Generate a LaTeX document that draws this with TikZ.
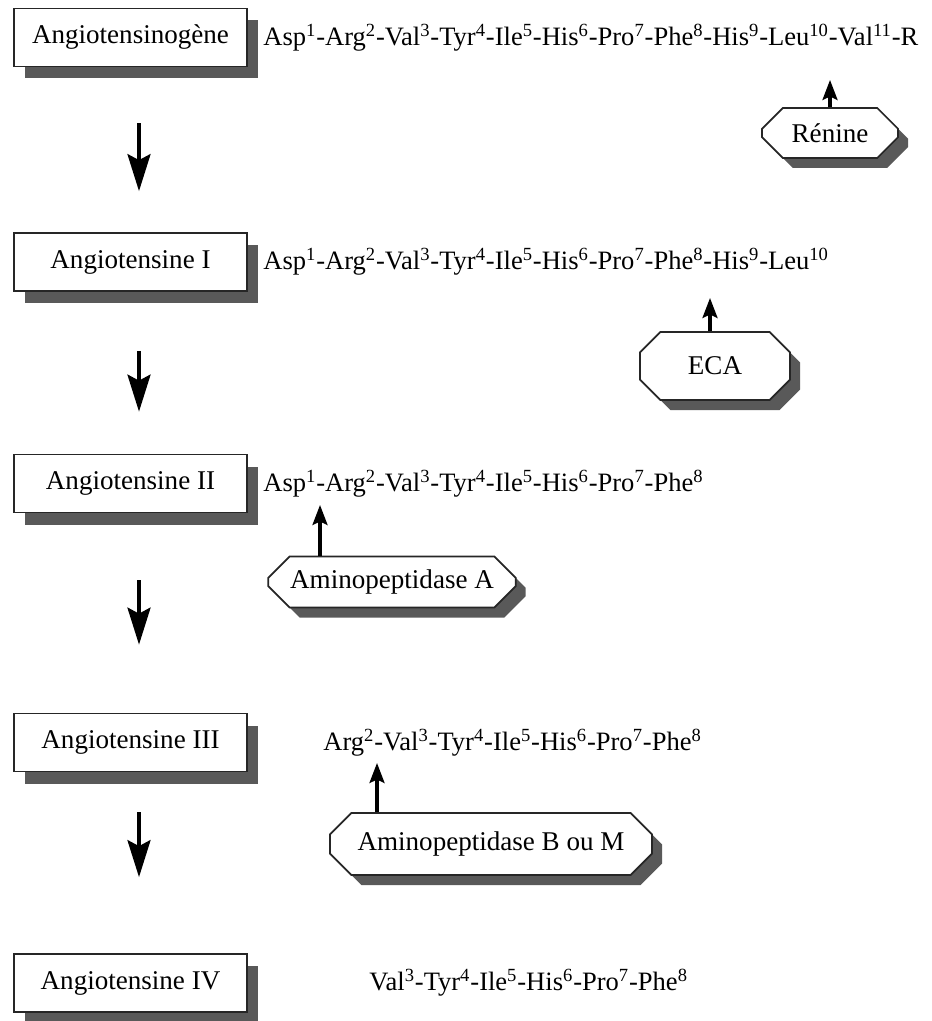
\documentclass[tikz,border=0pt]{standalone}
\usepackage{fontspec}
\setmainfont{Liberation Serif}
\usetikzlibrary{arrows.meta, positioning, shapes.misc, shadows}

\newcommand{\res}[2]{#1\textsuperscript{#2}}

\begin{document}
\begin{tikzpicture}[
> = {Stealth[length=0.4cm, width=0.3cm, inset=0.07cm]}, % arrow head style
font = \fontsize{15.4}{18}\selectfont, % text size
node distance = 4.5cm, % distance between boxes
semithick % line style
]
\tikzstyle{box}=[
draw = black!85,
line width = 1pt,
fill = white,
minimum width = 4.66cm,
minimum height = 1.16cm,
drop shadow = {shadow xshift=0.22cm, shadow yshift=-0.24cm, fill=black!65, opacity=1}
]
\tikzstyle{enzyme}=[
chamfered rectangle,
chamfered rectangle xsep = 0.32cm,
draw = black!85,
line width = 1pt,
fill = white,
drop shadow = {shadow xshift=0.2cm, shadow yshift=-0.2cm, fill=black!65, opacity=1}
]
\tikzstyle{pept}=[inner sep = 0pt, font = \fontsize{15.1}{18}\selectfont]
\tikzstyle{convert}=[-{Stealth[length=0.74cm, width=0.46cm, inset=0.12cm]}, line width = 2pt]
\tikzstyle{cleave}=[-{Stealth[length=0.4cm, width=0.3cm, inset=0.07cm]}, line width = 1.8pt]
\useasboundingbox (0,0) rectangle (18.62,-20.42);
% precursor and peptides
\node[box] (ang0) at (2.61,-0.75) {Angiotensinogène};
\node[box] (ang1) [below of=ang0, node distance=4.49cm] {Angiotensine I};
\node[box] (ang2) [below of=ang1, node distance=4.43cm] {Angiotensine II};
\node[box] (ang3) [below of=ang2, node distance=5.18cm] {Angiotensine III};
\node[box] (ang4) [below of=ang3, node distance=4.81cm] {Angiotensine IV};
% sequences
\node[pept] (pep0) [right=0.3cm of ang0] {\res{Asp}{1}-\res{Arg}{2}-\res{Val}{3}-\res{Tyr}{4}-\res{Ile}{5}-\res{His}{6}-\res{Pro}{7}-\res{Phe}{8}-\res{His}{9}-\res{Leu}{10}-\res{Val}{11}-R};
\node[pept] (pep1) [right=0.3cm of ang1] {\res{Asp}{1}-\res{Arg}{2}-\res{Val}{3}-\res{Tyr}{4}-\res{Ile}{5}-\res{His}{6}-\res{Pro}{7}-\res{Phe}{8}-\res{His}{9}-\res{Leu}{10}};
\node[pept] (pep2) [right=0.3cm of ang2] {\res{Asp}{1}-\res{Arg}{2}-\res{Val}{3}-\res{Tyr}{4}-\res{Ile}{5}-\res{His}{6}-\res{Pro}{7}-\res{Phe}{8}};
\node[pept] (pep3) [right=1.5cm of ang3] {\res{Arg}{2}-\res{Val}{3}-\res{Tyr}{4}-\res{Ile}{5}-\res{His}{6}-\res{Pro}{7}-\res{Phe}{8}};
\node[pept] (pep4) [right=2.42cm of ang4] {\res{Val}{3}-\res{Tyr}{4}-\res{Ile}{5}-\res{His}{6}-\res{Pro}{7}-\res{Phe}{8}};
% enzymes
\node[enzyme, minimum width=2.72cm, minimum height=1.0cm] (renine) at (16.6,-2.66) {Rénine};
\node[enzyme, minimum width=3.0cm, minimum height=1.36cm] (eca) at (14.3,-7.32) {ECA};
\node[enzyme, minimum width=4.9cm, minimum height=1.02cm] (apa) at (7.84,-11.64) {Aminopeptidase A};
\node[enzyme, minimum width=6.44cm, minimum height=1.24cm] (apb) at (9.82,-16.88) {Aminopeptidase B ou M};
% cleavage sites
\coordinate (cut0) at (16.6,-1.6);
\coordinate (cut1) at (14.2,-5.96);
\coordinate (cutA) at (6.4,-10.1);
\coordinate (cutB) at (7.54,-15.26);
\draw[cleave] (cut0 |- renine.north) -- (cut0);
\draw[cleave] (cut1 |- eca.north) -- (cut1);
\draw[cleave] (cutA |- apa.north) -- (cutA);
\draw[cleave] (cutB |- apb.north) -- (cutB);
% conversions
\draw[convert, shorten <=1.12cm, shorten >=0.82cm] ([xshift=0.17cm]ang0.south) -- ([xshift=0.17cm]ang1.north);
\draw[convert, shorten <=1.18cm, shorten >=0.84cm] ([xshift=0.17cm]ang1.south) -- ([xshift=0.17cm]ang2.north);
\draw[convert, shorten <=1.34cm, shorten >=1.36cm] ([xshift=0.17cm]ang2.south) -- ([xshift=0.17cm]ang3.north);
\draw[convert, shorten <=0.8cm, shorten >=1.52cm] ([xshift=0.17cm]ang3.south) -- ([xshift=0.17cm]ang4.north);
\end{tikzpicture}
\end{document}
